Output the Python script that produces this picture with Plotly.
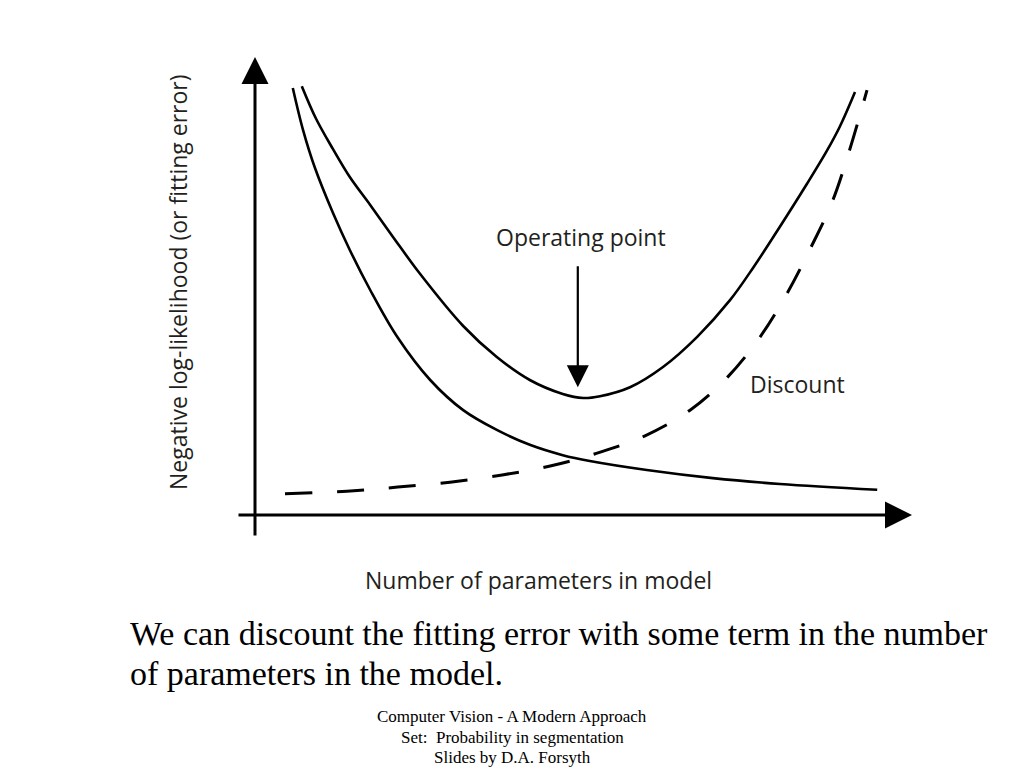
import plotly.graph_objects as go

# Data (x: number of parameters, y: negative log-likelihood)
fit_x = [0.63, 0.80, 1.00, 1.30, 1.58, 1.92, 2.37, 2.92, 3.47, 4.03, 4.58, 5.13, 5.58, 6.53, 7.63, 8.75, 10.37]
fit_y = [9.49, 8.56, 7.71, 6.71, 5.89, 5.00, 3.96, 3.00, 2.33, 1.89, 1.56, 1.33, 1.20, 1.00, 0.82, 0.69, 0.56]

total_x = [0.78, 1.02, 1.30, 1.58, 1.92, 2.30, 2.75, 3.47, 4.03, 4.58, 5.13, 5.47, 5.75, 6.25,
           6.80, 7.37, 7.92, 8.30, 8.63, 9.20, 9.53, 9.75, 10.00]
total_y = [9.53, 8.80, 8.13, 7.51, 6.89, 6.18, 5.36, 4.20, 3.51, 3.00, 2.69, 2.60, 2.64, 2.84,
           3.29, 3.96, 4.78, 5.49, 6.16, 7.36, 8.09, 8.64, 9.40]

disc_x = [0.5, 1.53, 2.38, 3.25, 4.12, 4.92, 5.67, 6.5, 7.25, 7.88, 8.42, 8.87, 9.27, 9.62, 9.9, 10.2]
disc_y = [0.47, 0.53, 0.62, 0.73, 0.89, 1.09, 1.36, 1.76, 2.33, 3.07, 3.96, 4.93, 5.96, 6.96, 8.07, 9.44]

op_x = 5.38          # operating point (minimum of total)
op_tip_y = 2.84
op_tail_y = 5.56

x_axis_span = [-0.3, 10.95]
y_axis_span = [-0.49, 10.18]

DIAG_FONT = "Open Sans"
TEXT_COL = "#231f20"
SERIF = "Liberation Serif"

W, H = 1008, 760   # page body adds an 8px margin
OFF = 8


def px(p):
    return (p - OFF) / W


def py(p):
    return 1 - (p - OFF) / H


fig = go.Figure()
fig.add_trace(go.Scatter(x=fit_x, y=fit_y, mode="lines",
                         line=dict(color="black", width=2.6, shape="spline", smoothing=1),
                         hoverinfo="skip", showlegend=False))
fig.add_trace(go.Scatter(x=total_x, y=total_y, mode="lines",
                         line=dict(color="black", width=2.6, shape="spline", smoothing=1),
                         hoverinfo="skip", showlegend=False))
fig.add_trace(go.Scatter(x=disc_x, y=disc_y, mode="lines",
                         line=dict(color="black", width=3, shape="spline", smoothing=1,
                                   dash="27px,25px"),
                         hoverinfo="skip", showlegend=False))

annotations = []
# x axis with arrow
annotations.append(dict(x=x_axis_span[1], y=0, ax=x_axis_span[0], ay=0,
                        xref="x", yref="y", axref="x", ayref="y",
                        showarrow=True, arrowhead=2, arrowsize=1.8, arrowwidth=3,
                        arrowcolor="black", text=""))
# y axis with arrow
annotations.append(dict(x=0, y=y_axis_span[1], ax=0, ay=y_axis_span[0],
                        xref="x", yref="y", axref="x", ayref="y",
                        showarrow=True, arrowhead=2, arrowsize=1.8, arrowwidth=3,
                        arrowcolor="black", text=""))
# operating point arrow
annotations.append(dict(x=op_x, y=op_tip_y, ax=op_x, ay=op_tail_y,
                        xref="x", yref="y", axref="x", ayref="y",
                        showarrow=True, arrowhead=2, arrowsize=2, arrowwidth=2.2,
                        arrowcolor="black", text=""))


def label(text, x, y, size, family=DIAG_FONT, color=TEXT_COL, angle=0, xanchor="center"):
    annotations.append(dict(x=px(x), y=py(y), xref="paper", yref="paper",
                            xanchor=xanchor, yanchor="middle",
                            text=text, showarrow=False, textangle=angle,
                            font=dict(family=family, size=size, color=color)))


label("Operating point", 581, 237, 23)
label("Discount", 797, 384, 23)
label("Negative log-likelihood (or fitting error)", 178, 282, 23, angle=-90)
label("Number of parameters in model", 538, 580, 23)
label("We can discount the fitting error with some term in the number", 128, 633, 34,
      family=SERIF, color="black", xanchor="left")
label("of parameters in the model.", 128, 673, 34, family=SERIF, color="black", xanchor="left")
label("Computer Vision - A Modern Approach", 512, 716, 17, family=SERIF, color="black")
label("Set:  Probability in segmentation", 512, 737, 17, family=SERIF, color="black")
label("Slides by D.A. Forsyth", 512, 757, 17, family=SERIF, color="black")

fig.update_layout(
    width=W, height=H,
    margin=dict(l=0, r=0, t=0, b=0),
    paper_bgcolor="white", plot_bgcolor="white",
    xaxis=dict(range=[-(255 - OFF) / 60, (W - (255 - OFF)) / 60], visible=False, fixedrange=True),
    yaxis=dict(range=[((515 - OFF) - H) / 45, (515 - OFF) / 45], visible=False, fixedrange=True),
    annotations=annotations,
    showlegend=False,
)

fig.write_html("out.html")
